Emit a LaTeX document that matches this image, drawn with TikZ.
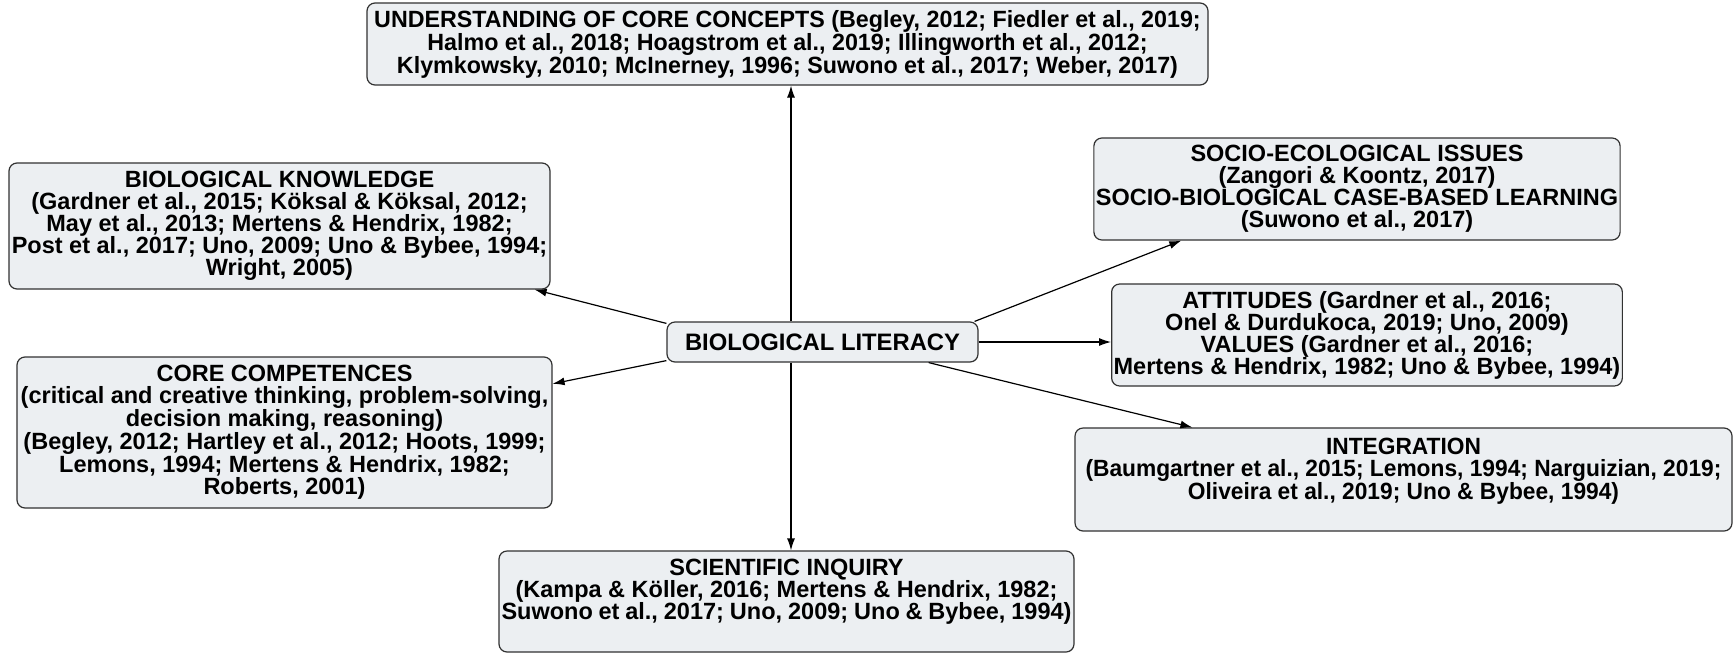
\documentclass[tikz,border=0pt]{standalone}
\usepackage{fontspec}
\setmainfont{Liberation Sans}
\newfontfamily\narrowfont{Liberation Sans}[FakeStretch=0.99]
\newfontfamily\semifont{Liberation Sans}[FakeStretch=0.968]
\usetikzlibrary{arrows.meta,calc}
\definecolor{boxfill}{RGB}{236,239,242}
\definecolor{boxline}{RGB}{50,50,50}
\begin{document}
\begin{tikzpicture}[x=1pt,y=-1pt,
  box/.style={draw=boxline, fill=boxfill, rounded corners=8pt, line width=1.2pt,
    align=center, inner sep=2pt, font=\fontsize{23.5}{22}\selectfont\bfseries},
  conn/.style={-{Latex[length=12pt,width=8pt]}, line width=1.2pt, black}]
\useasboundingbox (0,0) rectangle (1734,654);
\fill[white] (0,0) rectangle (1734,654);

\node[box, minimum width=841pt, minimum height=82pt, font=\fontsize{23.5}{22}\selectfont\narrowfont\bfseries] (ucc) at (787.5,44)
 {UNDERSTANDING OF CORE CONCEPTS (Begley, 2012; Fiedler et al., 2019;\\
  Halmo et al., 2018; Hoagstrom et al., 2019; Illingworth et al., 2012;\\
  Klymkowsky, 2010; McInerney, 1996; Suwono et al., 2017; Weber, 2017)};

\node[box, minimum width=541pt, minimum height=126pt] (bk) at (279.5,226)
 {BIOLOGICAL KNOWLEDGE\\
  (Gardner et al., 2015; Köksal \& Köksal, 2012;\\
  May et al., 2013; Mertens \& Hendrix, 1982;\\
  Post et al., 2017; Uno, 2009; Uno \& Bybee, 1994;\\
  Wright, 2005)};

\node[box, minimum width=535pt, minimum height=151pt] (cc) at (284.5,432.5)
 {CORE COMPETENCES\\
  (critical and creative thinking, problem-solving,\\
  decision making, reasoning)\\
  (Begley, 2012; Hartley et al., 2012; Hoots, 1999;\\
  Lemons, 1994; Mertens \& Hendrix, 1982;\\
  Roberts, 2001)};

\node[box, minimum width=575pt, minimum height=101pt] (sci) at (786.5,601.5)
 {\begin{minipage}[c][95pt][t]{570pt}\centering\vspace{5pt}
  SCIENTIFIC INQUIRY\\
  (Kampa \& Köller, 2016; Mertens \& Hendrix, 1982;\\
  Suwono et al., 2017; Uno, 2009; Uno \& Bybee, 1994)\end{minipage}};

\node[box, minimum width=526pt, minimum height=102pt] (soc) at (1357,189)
 {SOCIO-ECOLOGICAL ISSUES\\
  (Zangori \& Koontz, 2017)\\
  SOCIO-BIOLOGICAL CASE-BASED LEARNING\\
  (Suwono et al., 2017)};

\node[box, minimum width=506pt, minimum height=102pt] (att) at (1367,335)
 {ATTITUDES (Gardner et al., 2016;\\
  Onel \& Durdukoca, 2019; Uno, 2009)\\
  VALUES (Gardner et al., 2016;\\
  Mertens \& Hendrix, 1982; Uno \& Bybee, 1994)};

\node[box, minimum width=657pt, minimum height=103pt] (int) at (1403.5,479.5)
 {\begin{minipage}[c][97pt][t]{651pt}\centering\semifont\vspace{7pt}
  INTEGRATION\\
  (Baumgartner et al., 2015; Lemons, 1994; Narguizian, 2019;\\
  Oliveira et al., 2019; Uno \& Bybee, 1994)\end{minipage}};

\node[box, minimum width=311pt, minimum height=40pt, font=\fontsize{23.8}{24}\selectfont\bfseries] (lit) at (822.5,342)
 {BIOLOGICAL LITERACY};

\draw[conn] (lit.north -| 791,0) -- (ucc.south -| 791,0);
\draw[conn] (lit.south -| 791,0) -- (sci.north -| 791,0);
\draw[conn] ($(lit.north west)+(0,2)$) -- ($(bk.south east)+(-16,0)$);
\draw[conn] ($(lit.south west)+(0,-2)$) -- ($(cc.north east)!0.18!(cc.south east)$);
\draw[conn] ($(lit.north east)+(-4,0)$) -- ($(soc.south west)+(88,0)$);
\draw[conn] (lit.east) -- (lit.east -| att.west);
\draw[conn] ($(lit.south west)!0.84!(lit.south east)$) -- ($(int.north west)+(118,0)$);
\end{tikzpicture}
\end{document}
